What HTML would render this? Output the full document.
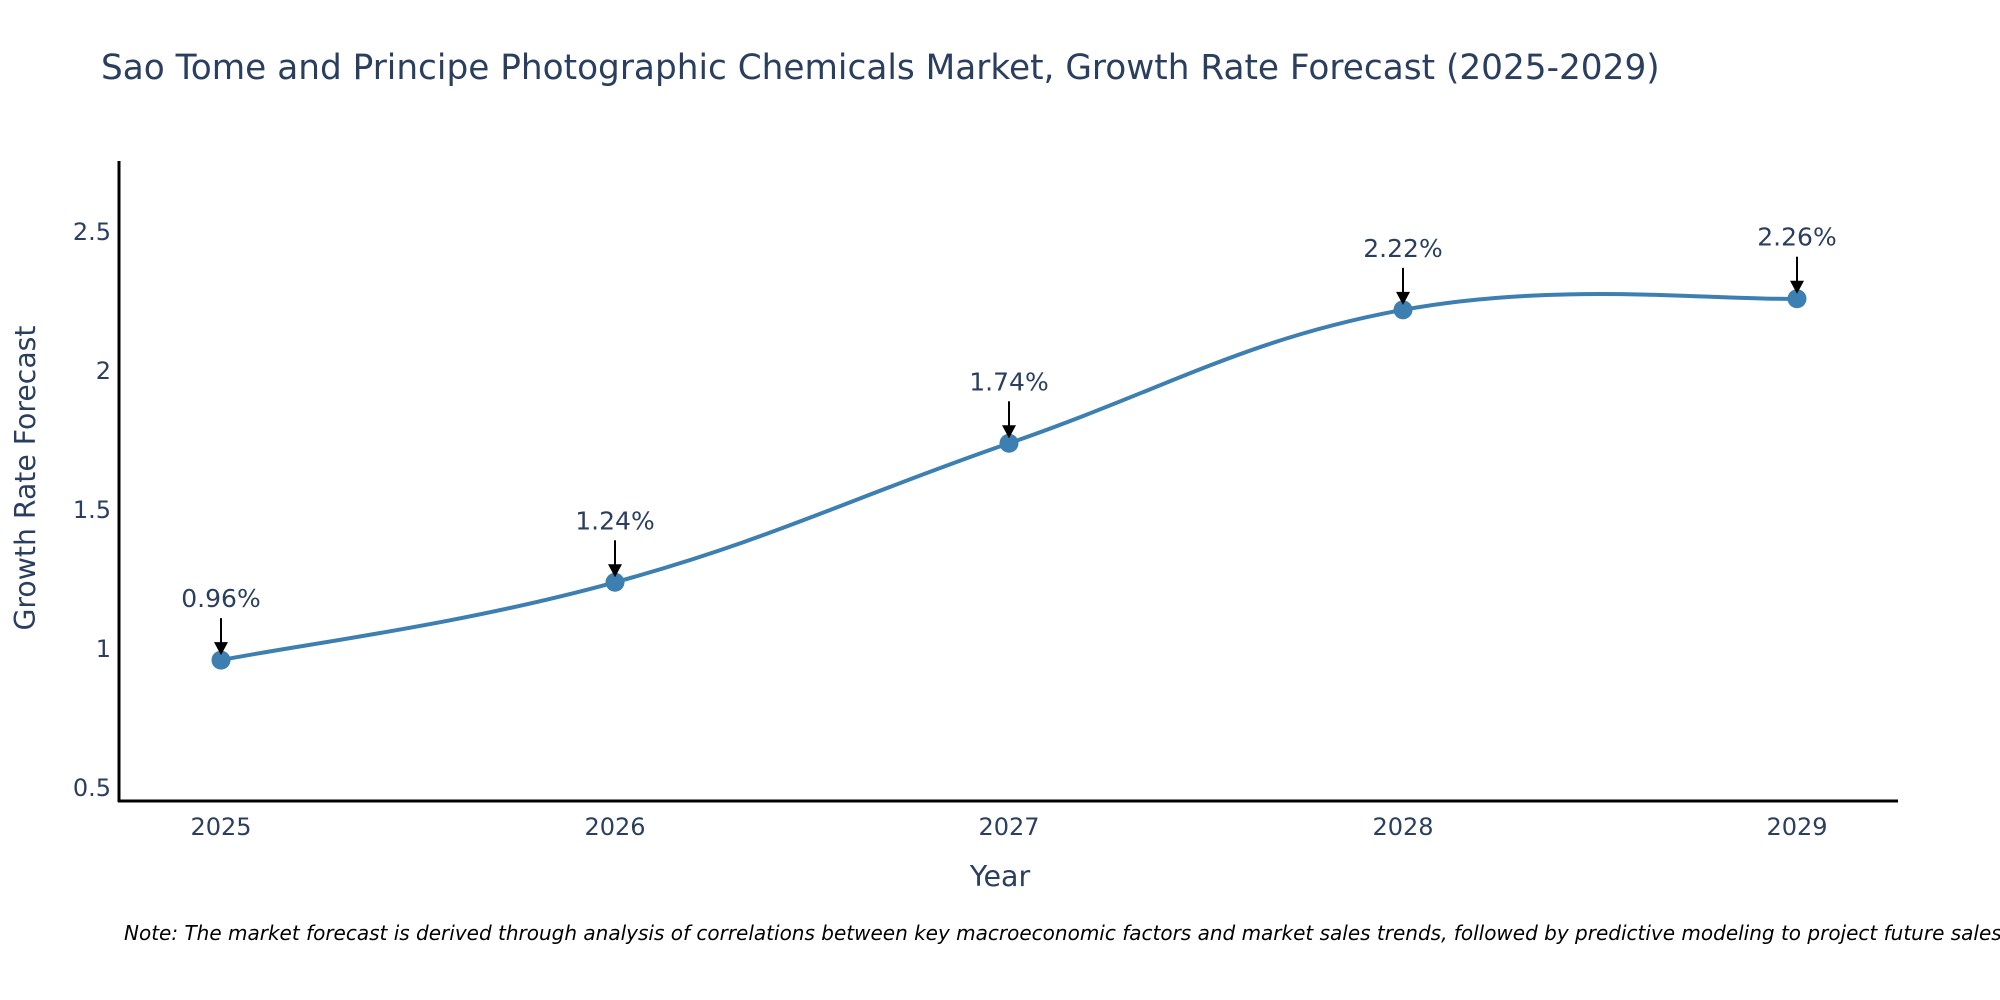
<!DOCTYPE html>
<html><head><meta charset="utf-8"><style>
html,body{margin:0;padding:0;background:#fff;overflow:hidden;}
svg{display:block;font-family:"DejaVu Sans","Liberation Sans",sans-serif;}
</style></head><body>
<svg id="chart" width="2000" height="1000" viewBox="0 0 2000 1000">
<text x="101" y="79" font-size="34.3" fill="#2a3f5f">Sao Tome and Principe Photographic Chemicals Market, Growth Rate Forecast (2025-2029)</text>
<g id="yticks"></g>
<g id="xticks"></g>
<path id="line" fill="none" stroke="#3d7fb0" stroke-width="4"/>
<g id="points"></g>
<g id="annots"></g>
<line x1="119" y1="161" x2="119" y2="802" stroke="#000" stroke-width="3"/>
<line x1="118" y1="801" x2="1898" y2="801" stroke="#000" stroke-width="3"/>
<text x="1000" y="886" font-size="28.5" fill="#2a3f5f" text-anchor="middle">Year</text>
<text transform="translate(35,478) rotate(-90)" font-size="28.3" fill="#2a3f5f" text-anchor="middle">Growth Rate Forecast</text>
<text x="124" y="940" font-size="20" font-style="italic" fill="#000">Note: The market forecast is derived through analysis of correlations between key macroeconomic factors and market sales trends, followed by predictive modeling to project future sales.</text>
</svg>
<script>
const years = ["2025","2026","2027","2028","2029"];
const values = [0.96, 1.24, 1.74, 2.22, 2.26];
const yTickValues = [0.5, 1, 1.5, 2, 2.5];
const yTickLabels = ["0.5","1","1.5","2","2.5"];
const labels = ["0.96%","1.24%","1.74%","2.22%","2.26%"];

const NS = "http://www.w3.org/2000/svg";
function xScale(i){ return 221 + i * 394; }
function yScale(v){ return 649 - (v - 1) * 278; }
function mk(tag, attrs, parent){ const e=document.createElementNS(NS,tag); for(const k in attrs) e.setAttribute(k,attrs[k]); parent.appendChild(e); return e; }

const yt = document.getElementById('yticks');
yTickValues.forEach((v,i)=>{
  const t = mk('text',{x:111,y:yScale(v)+8,'font-size':24,fill:'#2a3f5f','text-anchor':'end'},yt);
  t.textContent = yTickLabels[i];
  
  
});
const xt = document.getElementById('xticks');
years.forEach((y,i)=>{
  const t = mk('text',{x:xScale(i),y:835,'font-size':24,fill:'#2a3f5f','text-anchor':'middle'},xt);
  t.textContent = y;
  
  
});

const pts = values.map((v,i)=>[xScale(i), yScale(v)]);
let d = `M${pts[0][0]},${pts[0][1]}`;
const s = 0.2;
for(let i=0;i<pts.length-1;i++){
  const p0 = pts[i-1]||pts[i], p1=pts[i], p2=pts[i+1], p3=pts[i+2]||pts[i+1];
  const c1=[p1[0]+(p2[0]-p0[0])*s, p1[1]+(p2[1]-p0[1])*s];
  const c2=[p2[0]-(p3[0]-p1[0])*s, p2[1]-(p3[1]-p1[1])*s];
  d += ` C${c1[0]},${c1[1]} ${c2[0]},${c2[1]} ${p2[0]},${p2[1]}`;
}
document.getElementById('line').setAttribute('d', d);

const pg = document.getElementById('points');
const ag = document.getElementById('annots');
pts.forEach((p,i)=>{
  const c = mk('circle',{cx:p[0],cy:p[1],r:9.5,fill:'#3d7fb0'},pg);
  
  
  const l = mk('line',{x1:p[0],y1:p[1]-42,x2:p[0],y2:p[1]-16,stroke:'#000','stroke-width':2},ag);
  
  
  const h = mk('path',{d:`M${p[0]-7},${p[1]-18} L${p[0]+7},${p[1]-18} L${p[0]},${p[1]-5} Z`,fill:'#000'},ag);
  
  
  const t = mk('text',{x:p[0],y:p[1]-53,'font-size':25,fill:'#2a3f5f','text-anchor':'middle'},ag);
  t.textContent = labels[i];
  
  
});
</script>
</body></html>
